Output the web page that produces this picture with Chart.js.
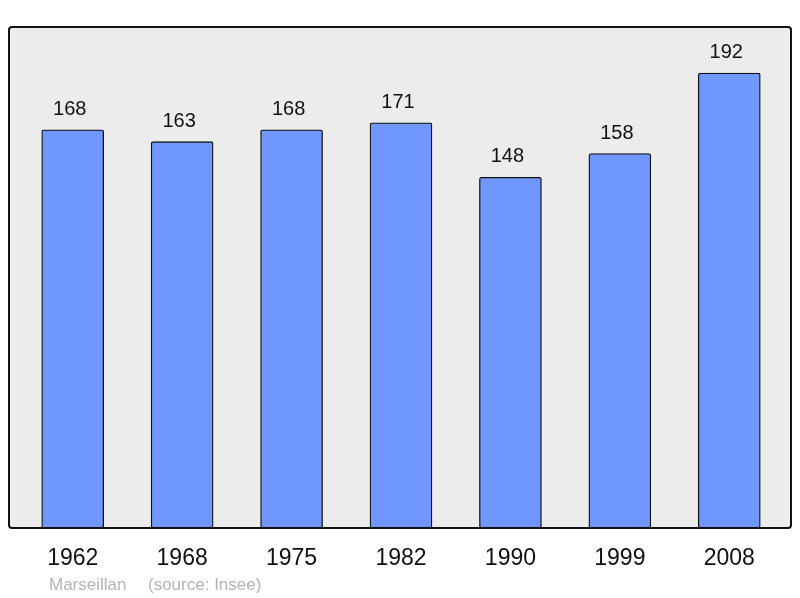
<!DOCTYPE html>
<html><head><meta charset="utf-8">
<script src="https://cdn.jsdelivr.net/npm/chart.js@4/dist/chart.umd.min.js"></script>
<style>html,body{margin:0;padding:0;background:#fff}#wrap{width:800px;height:598px}</style>
</head><body><div id="wrap"><canvas id="c" width="800" height="598"></canvas></div>
<script>
const years = ["1962","1968","1975","1982","1990","1999","2008"];
const population = [168,163,168,171,148,158,192];
const footerName = "Marseillan";
const footerSource = "(source: Insee)";

const framePlugin = {
  id: 'frame',
  beforeDatasetsDraw(chart){
    const ctx = chart.ctx;
    const x0 = 9, y0 = 27, x1 = 791, y1 = 528, r = 3;
    ctx.save();
    ctx.beginPath();
    ctx.roundRect(x0, y0, x1-x0, y1-y0, r);
    ctx.fillStyle = '#ececec';
    ctx.fill();
    ctx.lineWidth = 2;
    ctx.strokeStyle = '#111';
    ctx.stroke();
    ctx.restore();
  },
  afterDatasetsDraw(chart){
    const ctx = chart.ctx;
    const meta = chart.getDatasetMeta(0);
    ctx.save();
    ctx.font = '20px "Liberation Sans", Arial, sans-serif';
    ctx.fillStyle = '#111';
    ctx.textAlign = 'center';
    ctx.textBaseline = 'alphabetic';
    meta.data.forEach((bar, i) => {
      ctx.fillText(String(population[i]), bar.x - 3, bar.y - 15);
    });
    ctx.font = '17px "Liberation Sans", Arial, sans-serif';
    ctx.fillStyle = '#b4b4b4';
    ctx.textAlign = 'left';
    ctx.fillText(footerName, 49, 590);
    ctx.fillText(footerSource, 148, 590);
    ctx.restore();
  }
};

new Chart(document.getElementById('c'), {
  type: 'bar',
  data: {
    labels: years,
    datasets: [{
      data: population,
      backgroundColor: '#7096ff',
      borderColor: '#111',
      borderWidth: 1.3,
      borderRadius: 2,
      borderSkipped: false,
      barThickness: 62
    }]
  },
  options: {
    responsive: false,
    animation: false,
    devicePixelRatio: 1,
    layout: { padding: { left: 18, right: 16, top: 27, bottom: 0 } },
    plugins: { legend: { display: false }, tooltip: { enabled: false } },
    scales: {
      x: {
        grid: { display: false, drawTicks: false },
        border: { display: false },
        ticks: { color: '#111', font: { size: 23, family: '"Liberation Sans", Arial, sans-serif' }, padding: 17 },
        afterFit(scale){ scale.height = 70; }
      },
      y: { display: false, min: 0, max: 211.4 }
    }
  },
  plugins: [framePlugin]
});
</script></body></html>
